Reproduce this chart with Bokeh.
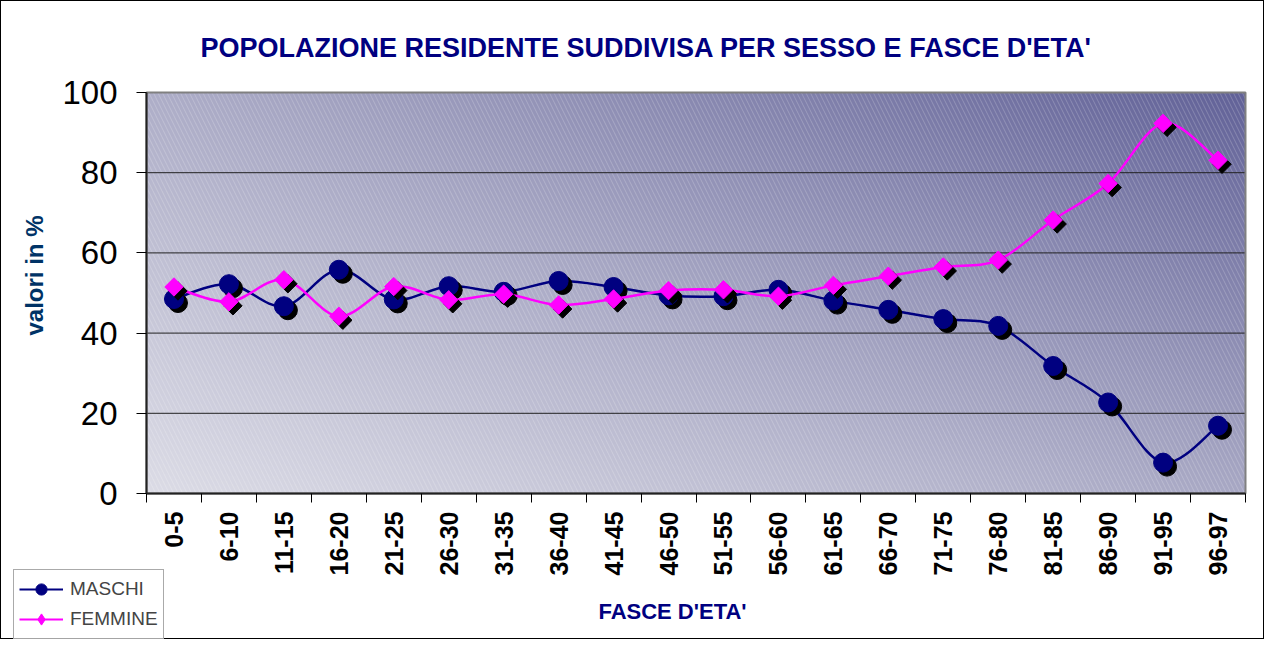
import numpy as np
from bokeh.plotting import figure
from bokeh.models import (FixedTicker, Legend, LegendItem, Range1d, ColumnDataSource,
                          Label)
from bokeh.transform import dodge
from bokeh.embed import file_html
from bokeh.resources import INLINE

# ---- data ----
fasce = ["0-5", "6-10", "11-15", "16-20", "21-25", "26-30", "31-35", "36-40",
         "41-45", "46-50", "51-55", "56-60", "61-65", "66-70", "71-75", "76-80",
         "81-85", "86-90", "91-95", "96-97"]
maschi = [48.5, 52.2, 46.7, 55.8, 48.4, 51.7, 50.3, 53.0, 51.5, 49.4,
          49.2, 50.8, 48.1, 45.8, 43.5, 41.8, 31.8, 22.7, 7.7, 16.9]
femmine = [51.5, 47.8, 53.3, 44.2, 51.6, 48.3, 49.7, 47.0, 48.5, 50.6,
           50.8, 49.2, 51.9, 54.2, 56.5, 58.2, 68.2, 77.3, 92.3, 83.1]
y_ticks = [0, 20, 40, 60, 80, 100]
series_names = ["MASCHI", "FEMMINE"]
title_text = "POPOLAZIONE RESIDENTE SUDDIVISA PER SESSO E FASCE D'ETA'"
x_title = "FASCE D'ETA'"
y_title = "valori in %"

xs = list(range(1, len(fasce) + 1))
X0, X1 = 0.5, len(fasce) + 0.5
Y0, Y1 = y_ticks[0], y_ticks[-1]

# ---- layout (pixels inside the figure) ----
FIG_W, FIG_H = 1264, 639
PX_L, PX_R, PX_T, PX_B = 145, 1244, 91, 492
kx = (X1 - X0) / (PX_R - PX_L)
ky = (Y1 - Y0) / (PX_B - PX_T)


def to_data(px, py):
    return X0 + (px - PX_L) * kx, Y0 + (PX_B - py) * ky


p = figure(width=FIG_W, height=FIG_H, output_backend="svg", toolbar_location=None,
           x_range=Range1d(X0 - PX_L * kx, X1 + (FIG_W - PX_R) * kx),
           y_range=Range1d(Y0 - (FIG_H - PX_B) * ky, Y1 + PX_T * ky),
           min_border=0)
p.styles = {"border": "1px solid black"}
p.background_fill_color = "white"
p.border_fill_color = "white"
p.outline_line_color = None
p.xgrid.visible = False
p.ygrid.visible = False

# ---- plot area: gradient + hatch ----
nx, ny = 400, 160
u = np.linspace(0, 1, nx)[None, :, None]
v = np.linspace(0, 1, ny)[:, None, None]
BL = np.array([220, 220, 230]); BR = np.array([168, 168, 196])
TL = np.array([174, 174, 200]); TR = np.array([98, 98, 152])
col = BL * (1 - u) * (1 - v) + BR * u * (1 - v) + TL * (1 - u) * v + TR * u * v
img = np.empty((ny, nx), dtype=np.uint32)
view = img.view(dtype=np.uint8).reshape((ny, nx, 4))
view[:, :, :3] = col.astype(np.uint8)
view[:, :, 3] = 255
p.image_rgba(image=[img], x=X0, y=Y0, dw=X1 - X0, dh=Y1 - Y0, level="image")
p.quad(left=X0, right=X1, bottom=Y0, top=Y1, fill_alpha=0,
       line_alpha=0, hatch_pattern="\\", hatch_color="white", hatch_alpha=0.2,
       hatch_scale=9, hatch_weight=1, level="image")
# grid lines
p.segment(x0=[X0] * (len(y_ticks) - 2), x1=[X1] * (len(y_ticks) - 2),
          y0=y_ticks[1:-1], y1=y_ticks[1:-1], line_color="#222222", line_width=1,
          level="underlay")
# plot-area border (top / right grey)
p.quad(left=X0, right=X1, bottom=Y0, top=Y1, fill_alpha=0, line_color="#808080",
       line_width=2, level="underlay")


def bezier_src(x, y):
    n = len(x)
    d = dict(x0=[], y0=[], x1=[], y1=[], cx0=[], cy0=[], cx1=[], cy1=[])
    for i in range(n - 1):
        im = max(i - 1, 0)
        ip = min(i + 2, n - 1)
        d["x0"].append(x[i]); d["y0"].append(y[i])
        d["x1"].append(x[i + 1]); d["y1"].append(y[i + 1])
        d["cx0"].append(x[i] + (x[i + 1] - x[im]) / 6)
        d["cy0"].append(y[i] + (y[i + 1] - y[im]) / 6)
        d["cx1"].append(x[i + 1] - (x[ip] - x[i]) / 6)
        d["cy1"].append(y[i + 1] - (y[ip] - y[i]) / 6)
    return ColumnDataSource(d)


items = []
styles = [("#000080", "circle", "circle", 19, 0), ("#ff00ff", "square", "diamond", 13, np.pi / 4)]
nan1 = np.array([np.nan])
for name, vals, (color, marker, lg_marker, size, ang) in zip(series_names, [maschi, femmine], styles):
    p.bezier(x0="x0", y0="y0", x1="x1", y1="y1", cx0="cx0", cy0="cy0",
             cx1="cx1", cy1="cy1", source=bezier_src(xs, vals),
             line_color=color, line_width=2.5)
    src = ColumnDataSource(dict(x=xs, y=vals))
    p.scatter(x=dodge("x", 4 * kx), y=dodge("y", -4 * ky), source=src, marker=marker,
              size=size, angle=ang, fill_color="black", line_color="black")
    p.scatter(x="x", y="y", source=src, marker=marker, size=size, angle=ang,
              fill_color=color, line_color=color)
    # legend-only renderers (no visible data)
    ln = p.line(x=nan1, y=nan1, line_color=color, line_width=2)
    lm = p.scatter(x=nan1, y=nan1, marker=lg_marker, fill_color=color, line_color=color)
    items.append(LegendItem(label=name, renderers=[ln, lm]))

legend = Legend(items=items, location=(12, 1), background_fill_color="white",
                border_line_color="#555555", border_line_width=1,
                label_text_font="Liberation Sans", label_text_font_size="19px",
                glyph_width=44, glyph_height=28, label_standoff=7, spacing=2,
                padding=5, margin=0)
p.add_layout(legend, "center")

# ---- axes (fixed at the plot-area edges) ----
xa = p.xaxis[0]
xa.fixed_location = Y0
xa.bounds = (X0, X1)
xa.ticker = FixedTicker(ticks=xs, minor_ticks=[x - 0.5 for x in xs] + [X1])
xa.major_label_overrides = {x: "\u00a0" * (2 * (5 - len(f))) + f for x, f in zip(xs, fasce)}
xa.major_label_orientation = np.pi / 2
xa.major_label_text_font = "Liberation Sans"
xa.major_label_text_font_style = "bold"
xa.major_label_text_font_size = "25px"
xa.major_label_text_color = "black"
xa.major_tick_out = 0
xa.major_tick_in = 0
xa.minor_tick_out = 9
xa.minor_tick_in = 0
xa.minor_tick_line_color = "black"
xa.minor_tick_line_width = 1
xa.major_label_standoff = 9
xa.axis_line_color = "#222222"
xa.axis_line_width = 2

ya = p.yaxis[0]
ya.fixed_location = X0
ya.bounds = (Y0, Y1)
ya.ticker = FixedTicker(ticks=y_ticks)
ya.major_label_text_font = "Liberation Sans"
ya.major_label_text_font_size = "33px"
ya.major_label_text_color = "black"
ya.major_tick_out = 10
ya.major_tick_in = 0
ya.minor_tick_out = 0
ya.minor_tick_in = 0
ya.major_tick_line_color = "black"
ya.major_label_standoff = 19
ya.axis_line_color = "#222222"
ya.axis_line_width = 2

# ---- texts ----
tx, ty = to_data(199, 46)
p.add_layout(Label(x=tx, y=ty, text=title_text, text_font="Liberation Sans",
                   text_font_style="bold", text_font_size="27px", text_color="#000080",
                   text_align="left", text_baseline="middle"))
lx, ly = to_data(671, 610)
p.add_layout(Label(x=lx, y=ly, text=x_title, text_font="Liberation Sans",
                   text_font_style="bold", text_font_size="22px", text_color="#000080",
                   text_align="center", text_baseline="middle"))
vx, vy = to_data(33, 274)
p.add_layout(Label(x=vx, y=vy, text=y_title, angle=np.pi / 2, text_font="Liberation Sans",
                   text_font_style="bold", text_font_size="24px", text_color="#003366",
                   text_align="center", text_baseline="middle"))

open("out.html", "w").write(file_html(p, INLINE))
